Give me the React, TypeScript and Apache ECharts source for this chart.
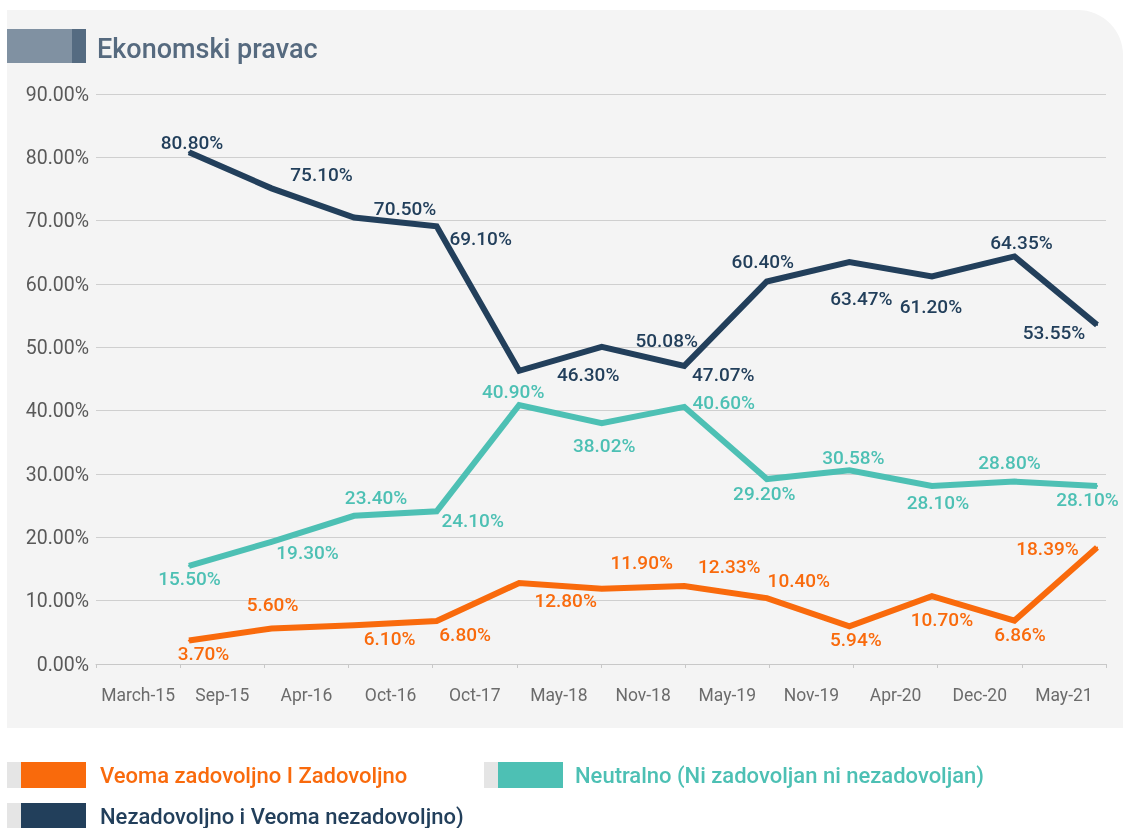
import React, { useEffect, useRef } from 'react';
import * as echarts from 'echarts';

// ---- data ----
const categories = ['March-15', 'Sep-15', 'Apr-16', 'Oct-16', 'Oct-17', 'May-18', 'Nov-18', 'May-19', 'Nov-19', 'Apr-20', 'Dec-20', 'May-21'];
const seriesNames = [
  'Veoma zadovoljno I Zadovoljno',
  'Neutralno (Ni zadovoljan ni nezadovoljan)',
  'Nezadovoljno i Veoma nezadovoljno)',
];
const satisfied = [3.7, 5.6, 6.1, 6.8, 12.8, 11.9, 12.33, 10.4, 5.94, 10.7, 6.86, 18.39];
const neutral = [15.5, 19.3, 23.4, 24.1, 40.9, 38.02, 40.6, 29.2, 30.58, 28.1, 28.8, 28.1];
const dissatisfied = [80.8, 75.1, 70.5, 69.1, 46.3, 50.08, 47.07, 60.4, 63.47, 61.2, 64.35, 53.55];
const yMin = 0;
const yMax = 90;
const yStep = 10;

// ---- label placement (styling, px offsets from each point) ----
const satisfiedLabelOffsets = [[14.5, 13], [1, -24.5], [35.5, 13], [28.5, 14], [46.5, 18], [40, -26.6], [45, -19.4], [32, -18], [6.5, 13], [10, 23], [5.5, 14.4], [-49.5, 0.5]];
const neutralLabelOffsets = [[0.5, 13], [36, 11], [22, -18], [36, 9], [-6, -13], [2.5, 22], [39.5, -4], [-2.5, 14], [4, -13], [6, 16], [-5, -19.6], [-9.5, 13]];
const dissatisfiedLabelOffsets = [[3, -10], [50, -14], [51, -9], [44, 12], [69, 4], [65, -6], [39, 9], [-4, -20], [12, 36], [-1, 30], [7, -14], [-43, 8]];

const COLORS = ['#f96a0c', '#4dc0b4', '#223f5b'];
const FONT = 'Roboto';

function mkSeries(name: string, values: number[], color: string, offsets: number[][]) {
  return {
    type: 'line',
    name,
    xAxisIndex: 1,
    yAxisIndex: 1,
    data: values.map((v, i) => ({ value: v, label: { offset: offsets[i] } })),
    symbol: 'circle',
    symbolSize: 2,
    showSymbol: true,
    silent: true,
    lineStyle: { color, width: 6, join: 'miter' },
    itemStyle: { color },
    label: {
      show: true,
      position: 'inside',
      color,
      fontSize: 19,
      fontWeight: 500,
      fontFamily: FONT,
      formatter: (p: any) => Number(p.value).toFixed(2) + '%',
    },
    emphasis: { disabled: true },
  };
}

export default function App() {
  const ref = useRef<HTMLDivElement>(null);
  useEffect(() => {
    if (!ref.current) return;
    const chart = echarts.init(ref.current, undefined, { renderer: 'svg' });
    const legendPos = [
      { left: 21, top: 762, pad: 9 },
      { left: 498, top: 762, pad: 7 },
      { left: 21, top: 803, pad: 9 },
    ];
    chart.setOption({
      animation: false,
      grid: [
        { left: 96, right: 17, top: 94, bottom: 164 },
        { left: 189, right: 26, top: 94, bottom: 164 },
      ],
      xAxis: [
        {
          type: 'category',
          gridIndex: 0,
          data: categories,
          boundaryGap: true,
          axisLine: { lineStyle: { color: '#c8c8c8', width: 1 } },
          axisTick: { show: true, length: 4, lineStyle: { color: '#c8c8c8' } },
          axisLabel: { interval: 0, color: '#6b6b6b', fontSize: 17.5, fontFamily: FONT, margin: 22 },
          splitLine: { show: false },
        },
        {
          type: 'category',
          gridIndex: 1,
          data: categories,
          boundaryGap: false,
          show: false,
        },
      ],
      yAxis: [
        {
          type: 'value',
          gridIndex: 0,
          min: yMin,
          max: yMax,
          interval: yStep,
          axisLine: { show: false },
          axisTick: { show: false },
          splitLine: { lineStyle: { color: '#cfcfcf', width: 1 } },
          axisLabel: {
            formatter: (v: number) => v.toFixed(2) + '%',
            color: '#595959',
            fontSize: 19.5,
            fontFamily: FONT,
            margin: 7,
          },
        },
        {
          type: 'value',
          gridIndex: 1,
          min: yMin,
          max: yMax,
          interval: yStep,
          show: false,
          splitLine: { show: false },
        },
      ],
      legend: seriesNames.map((n, i) => ({
        data: [{ name: n }],
        left: legendPos[i].left,
        top: legendPos[i].top,
        icon: 'rect',
        itemWidth: 65,
        itemHeight: 26,
        padding: 0,
        selectedMode: false,
        itemStyle: { borderWidth: 0 },
        textStyle: { color: COLORS[i], fontSize: 22, fontWeight: 500, fontFamily: FONT, padding: [0, 0, 0, legendPos[i].pad] },
      })),
      graphic: [
        { type: 'rect', z: -10, shape: { x: 7, y: 10, width: 1116, height: 718, r: [0, 45, 0, 0] }, style: { fill: '#f4f4f4' } },
        { type: 'rect', shape: { x: 7, y: 29, width: 65, height: 34 }, style: { fill: '#8091a2' } },
        { type: 'rect', shape: { x: 72, y: 29, width: 14, height: 34 }, style: { fill: '#556b81' } },
        {
          type: 'text',
          x: 97,
          y: 49,
          style: {
            text: 'Ekonomski pravac',
            fill: '#566a7f',
            fontSize: 27,
            fontWeight: 500,
            fontFamily: FONT,
            verticalAlign: 'middle',
            textVerticalAlign: 'middle',
          },
        },
        { type: 'rect', shape: { x: 7, y: 762, width: 14, height: 26 }, style: { fill: '#e5e5e5' } },
        { type: 'rect', shape: { x: 484, y: 762, width: 14, height: 26 }, style: { fill: '#e5e5e5' } },
        { type: 'rect', shape: { x: 7, y: 803, width: 14, height: 26 }, style: { fill: '#e5e5e5' } },
      ],
      series: [
        mkSeries(seriesNames[0], satisfied, COLORS[0], satisfiedLabelOffsets),
        mkSeries(seriesNames[1], neutral, COLORS[1], neutralLabelOffsets),
        mkSeries(seriesNames[2], dissatisfied, COLORS[2], dissatisfiedLabelOffsets),
      ],
    });
    return () => chart.dispose();
  }, []);
  return <div ref={ref} style={{ position: 'fixed', left: 0, top: 0, width: 1123, height: 828 }} />;
}
